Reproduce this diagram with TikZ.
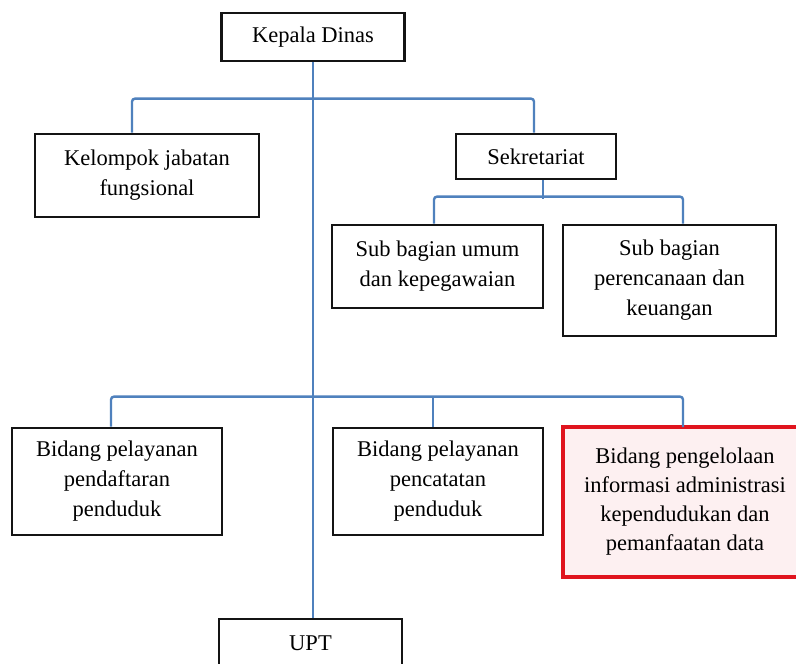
\documentclass[tikz,border=0pt]{standalone}
\usepackage{fontspec}
\setmainfont{Liberation Serif}
\usepackage{xcolor}
\definecolor{cLine}{HTML}{4F81BD}
\definecolor{cBox}{HTML}{141414}
\definecolor{cRed}{HTML}{E0141E}
\definecolor{cPink}{HTML}{FDF0F1}
\usepackage{tikz}
\usetikzlibrary{positioning,calc}
\tikzset{
  org-box/.style={draw=cBox,line width=2.8pt,inner sep=0pt,align=center,
    font=\fontsize{22.5}{30}\selectfont},
  org-mark/.style={draw=cRed,line width=4pt,fill=cPink,
    font=\fontsize{22.5}{29}\selectfont},
  conn/.style={draw=cLine,line width=2.4pt,rounded corners=3pt},
}

\begin{document}
\begin{tikzpicture}[x=1pt,y=-1pt]
  \clip (0,0) rectangle (796,664);
  \fill[white] (0,0) rectangle (796,664);
  % pimpinan dan sekretariat
  \node[org-box,minimum width=183pt,minimum height=48pt] (kepala) at (313,37) {Kepala Dinas};
  \node[org-box,minimum width=224pt,minimum height=83pt] (kelompok) at (147,175.5) {Kelompok jabatan\\fungsional};
  \node[org-box,minimum width=160pt,minimum height=45pt] (sekretariat) at (536,156.5) {Sekretariat};
  \node[org-box,minimum width=211pt,minimum height=83pt] (umum) at (437.5,266.5) {Sub bagian umum\\dan kepegawaian};
  \node[org-box,minimum width=213pt,minimum height=111pt] (rencana) at (669.5,280.5) {Sub bagian\\perencanaan dan\\keuangan};
  % bidang
  \node[org-box,minimum width=210pt,minimum height=107pt] (daftar) at (117,481.5) {Bidang pelayanan\\pendaftaran\\penduduk};
  \node[org-box,minimum width=210pt,minimum height=107pt] (catat) at (438,481.5) {Bidang pelayanan\\pencatatan\\penduduk};
  \node[org-box,org-mark,minimum width=244pt,minimum height=150pt] (kelola) at (685,502) {Bidang pengelolaan\\informasi administrasi\\kependudukan dan\\pemanfaatan data};
  \node[org-box,minimum width=183pt,minimum height=48pt] (upt) at (310.5,643) {UPT};

  \draw[conn] (kepala.south) -- (kepala.south |- upt.north);
  \draw[conn] ([xshift=-15pt]kelompok.north) -- ++(0,-34) -| ([xshift=-2pt]sekretariat.north);
  \draw[conn] ([xshift=-3.5pt]umum.north) -- ++(0,-27) -| ([xshift=13.5pt]rencana.north);
  \draw[conn] ([xshift=7pt]sekretariat.south) -- ++(0,19);
  \draw[conn] ([xshift=-6pt]daftar.north) -- ++(0,-30) -| ([xshift=-2pt,yshift=-2pt]kelola.north);
  \draw[conn] ([xshift=-5pt]catat.north) -- ++(0,-30);
\end{tikzpicture}
\end{document}
